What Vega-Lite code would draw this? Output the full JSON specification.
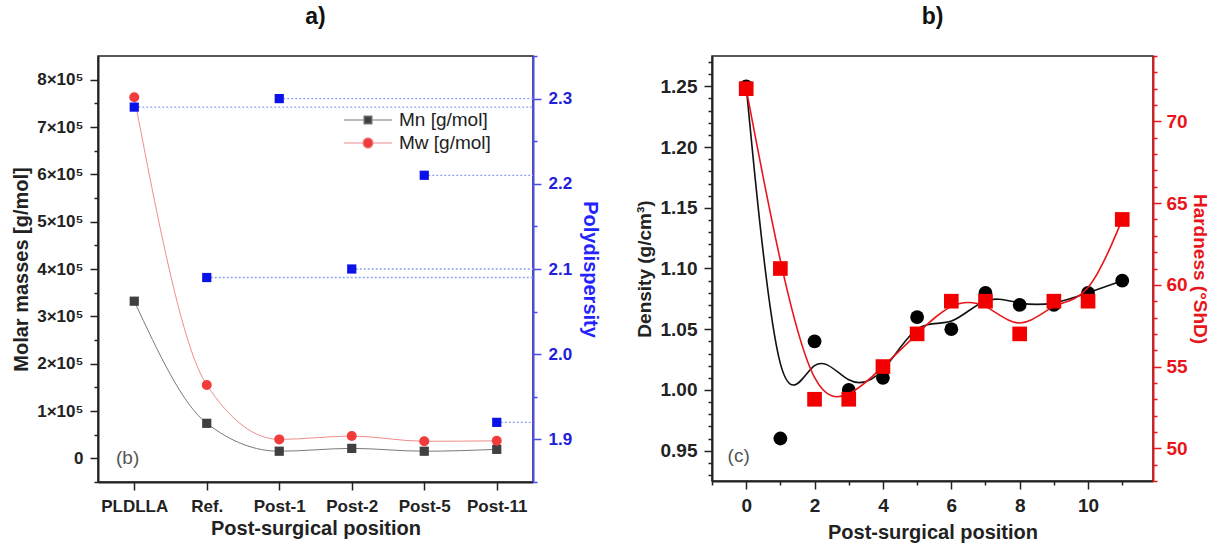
{
  "$schema": "https://vega.github.io/schema/vega-lite/v6.json",
  "background": "white",
  "padding": {"left": 10, "top": 5, "right": 6, "bottom": 0},
  "spacing": 33,
  "config": {
    "font": "Liberation Sans",
    "view": {"stroke": "#222", "strokeWidth": 1.5},
    "axis": {
      "labelFont": "Liberation Sans", "labelFontSize": 17, "labelFontWeight": "bold", "labelColor": "#222",
      "titleFont": "Liberation Sans", "titleFontSize": 20, "titleFontWeight": "bold", "titleColor": "#222",
      "grid": false, "domainColor": "#222", "domainWidth": 2, "tickColor": "#222", "tickWidth": 1.5, "labelPadding": 6, "tickSize": 8,
      "labelOverlap": false, "labelBound": false, "labelFlush": false
    },
    "title": {"font": "Liberation Sans", "fontSize": 23, "fontWeight": "bold", "color": "#111", "anchor": "middle", "frame": "group"}
  },
  "datasets": {
    "masses": [
      {"sample": "PLDLLA", "series": "Mn [g/mol]", "mass": 332000},
      {"sample": "Ref.", "series": "Mn [g/mol]", "mass": 74000},
      {"sample": "Post-1", "series": "Mn [g/mol]", "mass": 15000},
      {"sample": "Post-2", "series": "Mn [g/mol]", "mass": 21000},
      {"sample": "Post-5", "series": "Mn [g/mol]", "mass": 15000},
      {"sample": "Post-11", "series": "Mn [g/mol]", "mass": 19000},
      {"sample": "PLDLLA", "series": "Mw [g/mol]", "mass": 763000},
      {"sample": "Ref.", "series": "Mw [g/mol]", "mass": 155000},
      {"sample": "Post-1", "series": "Mw [g/mol]", "mass": 40000},
      {"sample": "Post-2", "series": "Mw [g/mol]", "mass": 47000},
      {"sample": "Post-5", "series": "Mw [g/mol]", "mass": 36000},
      {"sample": "Post-11", "series": "Mw [g/mol]", "mass": 37000}
    ],
    "poly": [
      {"sample": "PLDLLA", "polydispersity": 2.29},
      {"sample": "Ref.", "polydispersity": 2.09},
      {"sample": "Post-1", "polydispersity": 2.30},
      {"sample": "Post-2", "polydispersity": 2.10},
      {"sample": "Post-5", "polydispersity": 2.21},
      {"sample": "Post-11", "polydispersity": 1.92}
    ],
    "props": [
      {"position": 0, "density": 1.25, "hardness": 72},
      {"position": 1, "density": 0.96, "hardness": 61},
      {"position": 2, "density": 1.04, "hardness": 53},
      {"position": 3, "density": 1.00, "hardness": 53},
      {"position": 4, "density": 1.01, "hardness": 55},
      {"position": 5, "density": 1.06, "hardness": 57},
      {"position": 6, "density": 1.05, "hardness": 59},
      {"position": 7, "density": 1.08, "hardness": 59},
      {"position": 8, "density": 1.07, "hardness": 57},
      {"position": 9, "density": 1.07, "hardness": 59},
      {"position": 10, "density": 1.08, "hardness": 59},
      {"position": 11, "density": 1.09, "hardness": 64}
    ]
  },
  "hconcat": [
    {
      "width": 435,
      "height": 426,
      "title": {"text": "a)", "offset": 18},
      "layer": [
        {
          "layer": [
            {
              "data": {"name": "masses"},
              "mark": {"type": "line", "interpolate": "monotone", "strokeWidth": 1},
              "encoding": {
                "x": {"field": "sample", "type": "nominal", "scale": {"type": "point", "padding": 0.5, "domain": ["PLDLLA", "Ref.", "Post-1", "Post-2", "Post-5", "Post-11"]}, "axis": {"title": "Post-surgical position", "labelAngle": 0, "tickSize": 8, "labelPadding": 8, "titlePadding": 4}},
                "y": {"field": "mass", "type": "quantitative", "scale": {"domain": [-50000, 850000], "nice": false, "zero": false},
                  "axis": {"title": "Molar masses [g/mol]", "titlePadding": 5, "labelPadding": 7, "tickCount": 200,
                    "values": [-50000, 0, 50000, 100000, 150000, 200000, 250000, 300000, 350000, 400000, 450000, 500000, 550000, 600000, 650000, 700000, 750000, 800000],
                    "labelExpr": "datum.value == 0 ? '0' : (datum.value > 0 && datum.value % 100000 == 0 ? (datum.value / 100000) + '×10⁵' : '')",
                    "tickDash": {"condition": {"test": "datum.value % 100000 != 0", "value": [4, 30]}, "value": [8, 0]}}},
                "stroke": {"field": "series", "type": "nominal", "scale": {"domain": ["Mn [g/mol]", "Mw [g/mol]"], "range": ["#7a7a7a", "#f08c8c"]},
                  "legend": {"orient": "none", "legendX": 257, "legendY": 51, "title": null, "padding": 0, "rowPadding": 0,
                    "labelFont": "Liberation Sans", "labelFontSize": 19, "labelFontWeight": "normal", "labelColor": "#222", "labelOffset": 18,
                    "symbolSize": 576,
                    "encode": {"symbols": {"update": {
                      "shape": {"signal": "datum.value === 'Mn [g/mol]' ? 'M-2,0H-0.33M0.33,0H2M-0.33,-0.33H0.33V0.33H-0.33Z' : 'M-2,0H-0.42M0.42,0H2M0.42,0A0.42,0.42 0 1,1 -0.42,0A0.42,0.42 0 1,1 0.42,0Z'"},
                      "fill": {"signal": "datum.value === 'Mn [g/mol]' ? '#404040' : '#f23c3c'"},
                      "stroke": {"signal": "datum.value === 'Mn [g/mol]' ? '#7a7a7a' : '#f08c8c'"},
                      "strokeWidth": {"value": 1.2},
                      "opacity": {"value": 1}
                    }}}}}
              }
            },
            {
              "data": {"name": "masses"},
              "transform": [{"filter": "datum.series == 'Mn [g/mol]'"}],
              "mark": {"type": "point", "shape": "square", "filled": true, "size": 85, "color": "#404040", "opacity": 1},
              "encoding": {
                "x": {"field": "sample", "type": "nominal"},
                "y": {"field": "mass", "type": "quantitative"}
              }
            },
            {
              "data": {"name": "masses"},
              "transform": [{"filter": "datum.series == 'Mw [g/mol]'"}],
              "mark": {"type": "point", "shape": "circle", "filled": true, "size": 100, "color": "#f23c3c", "opacity": 1},
              "encoding": {
                "x": {"field": "sample", "type": "nominal"},
                "y": {"field": "mass", "type": "quantitative"}
              }
            },
            {
              "data": {"values": [{"note": "(b)"}]},
              "mark": {"type": "text", "align": "right", "baseline": "middle", "dx": 5, "fontSize": 19, "color": "#555", "font": "Liberation Sans"},
              "encoding": {
                "x": {"datum": "PLDLLA"},
                "y": {"datum": 0},
                "text": {"field": "note"}
              }
            }
          ]
        },
        {
          "layer": [
            {
              "data": {"name": "poly"},
              "mark": {"type": "rule", "strokeDash": [2, 2], "color": "#8ea2f2", "strokeWidth": 1.3},
              "encoding": {
                "x": {"field": "sample", "type": "nominal"},
                "x2": {"value": "width"},
                "y": {"field": "polydispersity", "type": "quantitative", "scale": {"domain": [1.85, 2.35], "nice": false, "zero": false},
                  "axis": {"orient": "right", "title": "Polydispersity", "titleColor": "#2323ff", "labelColor": "#2020d8", "domainColor": "#4a4aee", "tickColor": "#4a4aee", "titlePadding": 8, "labelPadding": 7, "tickCount": 200,
                    "values": [1.85, 1.9, 1.95, 2.0, 2.05, 2.1, 2.15, 2.2, 2.25, 2.3, 2.35],
                    "labelExpr": "abs(datum.value * 10 - round(datum.value * 10)) < 0.01 ? format(datum.value, '.1f') : ''",
                    "tickDash": {"condition": {"test": "abs(datum.value * 10 - round(datum.value * 10)) > 0.01", "value": [4, 30]}, "value": [8, 0]}}}
              }
            },
            {
              "data": {"name": "poly"},
              "mark": {"type": "point", "shape": "square", "filled": true, "size": 85, "color": "#0a12e8", "opacity": 1},
              "encoding": {
                "x": {"field": "sample", "type": "nominal"},
                "y": {"field": "polydispersity", "type": "quantitative"}
              }
            }
          ]
        }
      ],
      "resolve": {"scale": {"y": "independent"}}
    },
    {
      "width": 441,
      "height": 425,
      "title": {"text": "b)", "offset": 18},
      "layer": [
        {
          "layer": [
            {
              "data": {"name": "props"},
              "mark": {"type": "line", "interpolate": "basis", "color": "#111", "strokeWidth": 1.6},
              "encoding": {
                "x": {"field": "position", "type": "quantitative", "scale": {"domain": [-1, 11.9], "nice": false, "zero": false},
                  "axis": {"title": "Post-surgical position", "labelFontSize": 19, "labelPadding": 7, "titlePadding": 7, "tickCount": 200,
                    "values": [-1, 0, 1, 2, 3, 4, 5, 6, 7, 8, 9, 10, 11],
                    "labelExpr": "datum.value >= 0 && datum.value % 2 == 0 ? '' + datum.value : ''",
                    "tickDash": {"condition": {"test": "datum.value % 2 != 0", "value": [4, 30]}, "value": [8, 0]}}},
                "y": {"field": "density", "type": "quantitative", "scale": {"domain": [0.925, 1.275], "nice": false, "zero": false},
                  "axis": {"title": "Density (g/cm³)", "labelFontSize": 19, "titleFontSize": 19, "labelPadding": 7, "titlePadding": 6, "tickCount": 200,
                    "values": [0.93, 0.94, 0.95, 0.96, 0.97, 0.98, 0.99, 1.0, 1.01, 1.02, 1.03, 1.04, 1.05, 1.06, 1.07, 1.08, 1.09, 1.1, 1.11, 1.12, 1.13, 1.14, 1.15, 1.16, 1.17, 1.18, 1.19, 1.2, 1.21, 1.22, 1.23, 1.24, 1.25, 1.26, 1.27],
                    "labelExpr": "abs(datum.value * 20 - round(datum.value * 20)) < 0.001 ? format(datum.value, '.2f') : ''",
                    "tickDash": {"condition": {"test": "abs(datum.value * 20 - round(datum.value * 20)) > 0.001", "value": [4, 30]}, "value": [8, 0]}}}
              }
            },
            {
              "data": {"name": "props"},
              "mark": {"type": "point", "shape": "circle", "filled": true, "size": 190, "color": "#000", "opacity": 1},
              "encoding": {
                "x": {"field": "position", "type": "quantitative"},
                "y": {"field": "density", "type": "quantitative"}
              }
            },
            {
              "data": {"values": [{"note": "(c)"}]},
              "mark": {"type": "text", "align": "center", "baseline": "middle", "fontSize": 19, "color": "#555", "font": "Liberation Sans"},
              "encoding": {
                "x": {"datum": -0.22},
                "y": {"datum": 0.9455},
                "text": {"field": "note"}
              }
            }
          ]
        },
        {
          "layer": [
            {
              "data": {"name": "props"},
              "mark": {"type": "line", "interpolate": "basis", "color": "#e8161b", "strokeWidth": 1.6},
              "encoding": {
                "x": {"field": "position", "type": "quantitative"},
                "y": {"field": "hardness", "type": "quantitative", "scale": {"domain": [48, 74], "nice": false, "zero": false},
                  "axis": {"orient": "right", "title": "Hardness (°ShD)", "titleColor": "#e8161b", "labelColor": "#e8161b", "domainColor": "#e8161b", "tickColor": "#e8161b", "labelFontSize": 19, "titleFontSize": 19, "labelPadding": 5, "titlePadding": 2, "tickCount": 200,
                    "values": [48, 49, 50, 51, 52, 53, 54, 55, 56, 57, 58, 59, 60, 61, 62, 63, 64, 65, 66, 67, 68, 69, 70, 71, 72, 73, 74],
                    "labelExpr": "datum.value % 5 == 0 ? '' + datum.value : ''",
                    "tickDash": {"condition": {"test": "datum.value % 5 != 0", "value": [4, 30]}, "value": [8, 0]}}}
              }
            },
            {
              "data": {"name": "props"},
              "mark": {"type": "point", "shape": "square", "filled": true, "size": 215, "color": "#f20000", "opacity": 1},
              "encoding": {
                "x": {"field": "position", "type": "quantitative"},
                "y": {"field": "hardness", "type": "quantitative"}
              }
            }
          ]
        }
      ],
      "resolve": {"scale": {"y": "independent"}}
    }
  ]
}
